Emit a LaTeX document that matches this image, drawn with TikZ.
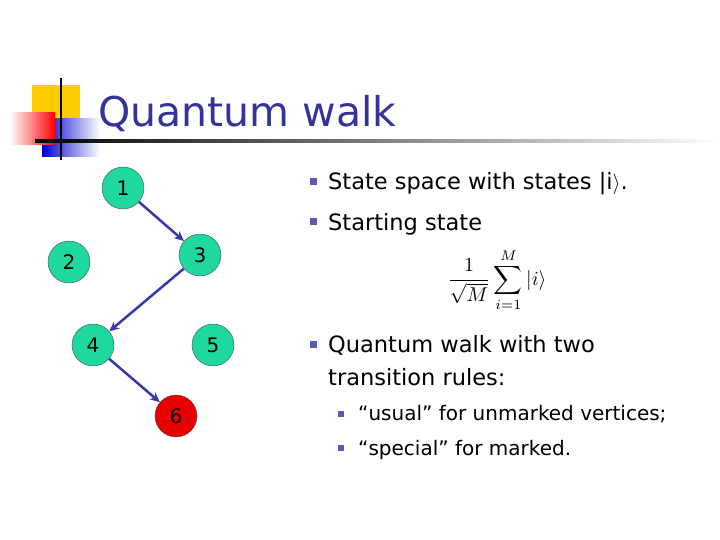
\documentclass[tikz,border=0pt]{standalone}
\usepackage{fontspec}
\setmainfont{DejaVu Sans}
\usetikzlibrary{arrows.meta}
\definecolor{node}{HTML}{1ED8A0}
\definecolor{mark}{HTML}{E80000}
\definecolor{edge}{HTML}{3838A8}
\definecolor{titleblue}{HTML}{333399}
\definecolor{gold}{HTML}{FFCC00}
\tikzset{
  vert/.style={circle, draw=black!70, fill=node, minimum size=42pt, inner sep=0pt, font=\fontsize{20}{20}\selectfont},
  walk/.style={draw=edge, line width=2.5pt, -{Stealth[length=10pt,width=9pt]}},
  bul/.style={fill=titleblue!80, minimum size=7pt, inner sep=0pt},
  sbul/.style={fill=titleblue!80, minimum size=6pt, inner sep=0pt},
  txt/.style={anchor=base west, inner sep=0pt, font=\fontsize{22.5}{23}\selectfont},
  stxt/.style={anchor=base west, inner sep=0pt, font=\fontsize{20}{20}\selectfont}
}
\begin{document}
\begin{tikzpicture}[x=1pt,y=-1pt]
\useasboundingbox[fill=white] (0,0) rectangle (720,540);
% logo
\fill[gold] (32,85) rectangle (80,118);
\shade[left color=blue!80!black, right color=white] (42,119) rectangle (100,157);
\shade[left color=white, right color=red] (10,113) rectangle (55,145);
\draw[line width=2pt] (61,78) -- (61,160);
\shade[left color=black, right color=white] (35,140) rectangle (720,143);
\node[anchor=base west, inner sep=0pt, text=titleblue, font=\fontsize{41}{41}\selectfont] (title) at (98,127) {Quantum walk};
% graph
\node[vert] (n1) at (123,188) {1};
\node[vert] (n2) at (69,262) {2};
\node[vert] (n3) at (200,255) {3};
\node[vert] (n4) at (93,345) {4};
\node[vert] (n5) at (213,345) {5};
\node[vert, fill=mark] (n6) at (176,416) {6};
\draw[walk] (n1) -- (n3);
\draw[walk] (n3) -- (n4);
\draw[walk] (n4) -- (n6);
% text
\node[bul] (b1) at (313,182) {};
\node[txt] (t1) at (328,190) {State space with states |i$\rangle$.};
\node[bul] (b2) at (313,222) {};
\node[txt] (t2) at (328,230) {Starting state};
\node[inner sep=0pt] (f) at (497,280) {\scalebox{2}{$\displaystyle\frac{1}{\sqrt{M}}\sum_{i=1}^{M}\left|i\right\rangle$}};
\node[bul] (b3) at (313,344) {};
\node[txt] (t3) at (328,352) {Quantum walk with two};
\node[txt] (t4) at (328,385) {transition rules:};
\node[sbul] (b4) at (341,414) {};
\node[stxt] (t5) at (358,420) {“usual” for unmarked vertices;};
\node[sbul] (b5) at (341,448) {};
\node[stxt] (t6) at (358,455) {“special” for marked.};
\end{tikzpicture}
\end{document}
